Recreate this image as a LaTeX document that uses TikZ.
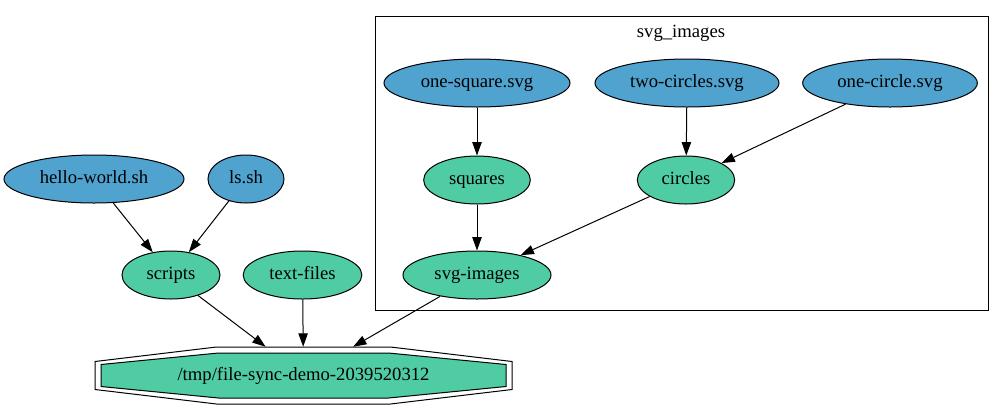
\documentclass[tikz,border=0pt]{standalone}
\usepackage{fontspec}
\setmainfont{Liberation Serif}
\usetikzlibrary{arrows.meta,shapes.geometric}
\definecolor{leafblue}{HTML}{51A3CF}
\definecolor{hubgreen}{HTML}{4FCCA3}
\tikzset{
  graphtext/.style={font=\fontsize{14}{16}\selectfont, text=black,
    text height=10pt, text depth=3pt},
  bluefile/.style={ellipse, draw=black, fill=leafblue, line width=.75pt,
    minimum height=36pt, inner sep=0pt, graphtext},
  greenset/.style={ellipse, draw=black, fill=hubgreen, line width=.75pt,
    minimum height=36pt, inner sep=0pt, graphtext},
  clusterbox/.style={draw=black, line width=.75pt},
  depflow/.style={-{Triangle[length=10pt, width=7pt]}, draw=black, line width=.75pt}
}

\begin{document}
\begin{tikzpicture}[x=.75pt,y=-.75pt]
  % Graphviz layout, coordinates in pixels measured from the top left.
  \useasboundingbox (0,0) rectangle (1004,412);

  \draw[clusterbox] (375,16) rectangle (988,310);
  \node[graphtext] (clusterlabel) at (681,33) {svg\_images};

  \node[bluefile, minimum width=139.5pt] (onesquare) at (477,83) {one-square.svg};
  \node[bluefile, minimum width=138pt] (twocircles) at (687,83) {two-circles.svg};
  \node[bluefile, minimum width=131pt] (onecircle) at (890,83) {one-circle.svg};
  \node[greenset, minimum width=80pt] (squares) at (477,180) {squares};
  \node[greenset, minimum width=73pt] (circles) at (686,180) {circles};
  \node[greenset, minimum width=111pt] (svgimages) at (477,275) {svg-images};

  \node[bluefile, minimum width=135pt] (helloworld) at (94,179) {hello-world.sh};
  \node[bluefile, minimum width=57pt] (lssh) at (246,179) {ls.sh};
  \node[greenset, minimum width=73.5pt] (scripts) at (171,275) {scripts};
  \node[greenset, minimum width=89pt] (textfiles) at (302.5,275) {text-files};

  % double octagon target
  \node[graphtext, minimum width=312.75pt, minimum height=42.75pt] (tmpdir) at (303.5,375.5) {};
  \begin{scope}[shift={(tmpdir.center)}]
    \draw[line width=.75pt, fill=white] (-208.5,-14) -- (-87,-28.5) -- (87,-28.5) -- (208.5,-14)
      -- (208.5,14) -- (87,28.5) -- (-87,28.5) -- (-208.5,14) -- cycle;
    \draw[line width=.75pt, fill=hubgreen] (-202.5,-11) -- (-85,-22.5) -- (85,-22.5) -- (202.5,-11)
      -- (202.5,11) -- (85,22.5) -- (-85,22.5) -- (-202.5,11) -- cycle;
  \end{scope}
  \node[graphtext] (tmplabel) at (tmpdir.center) {/tmp/file-sync-demo-2039520312};

  \draw[depflow] (onesquare) -- (squares);
  \draw[depflow] (twocircles) -- (circles);
  \draw[depflow] (onecircle) -- (circles);
  \draw[depflow] (squares) -- (svgimages);
  \draw[depflow] (circles) -- (svgimages);
  \draw[depflow] (helloworld) -- (scripts);
  \draw[depflow] (lssh) -- (scripts);
  \draw[depflow] (scripts) -- (tmpdir);
  \draw[depflow] (textfiles) -- (tmpdir);
  \draw[depflow] (svgimages) -- (tmpdir);
\end{tikzpicture}
\end{document}
